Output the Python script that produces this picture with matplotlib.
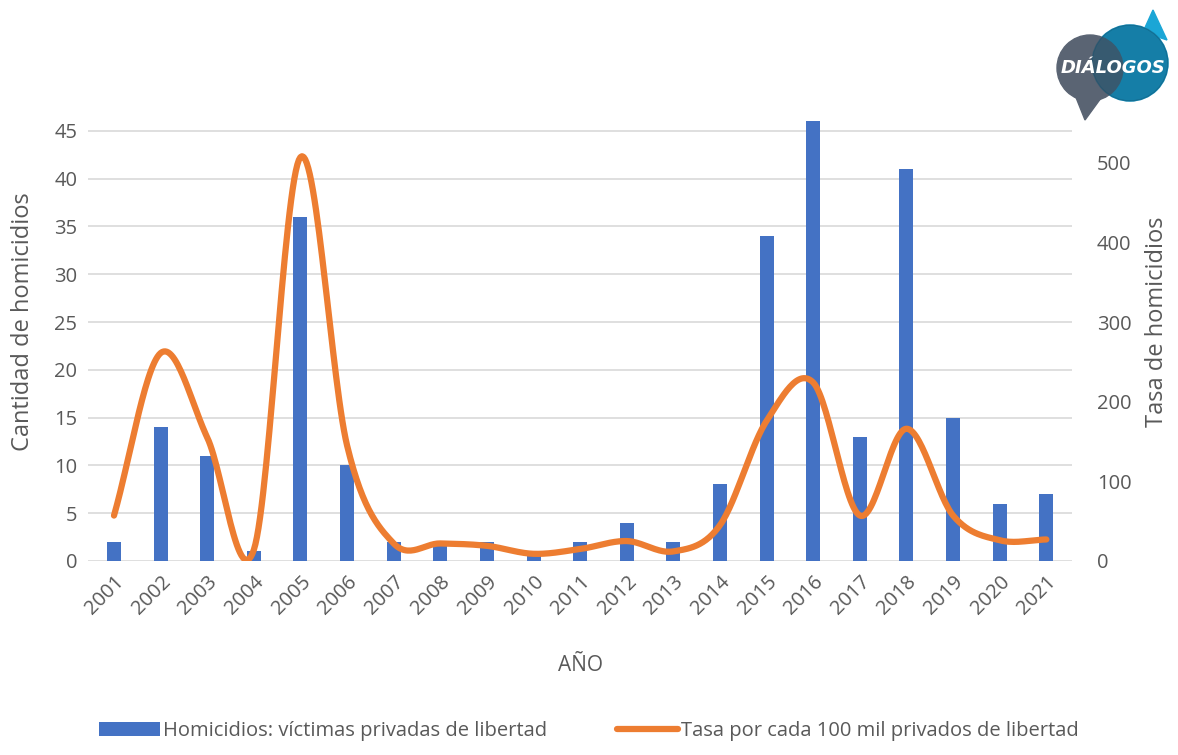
import numpy as np
import matplotlib.pyplot as plt
from matplotlib.patches import Circle, Polygon

plt.rcParams['font.family'] = ['Open Sans', 'DejaVu Sans']

years = ['2001', '2002', '2003', '2004', '2005', '2006', '2007', '2008', '2009', '2010', '2011',
         '2012', '2013', '2014', '2015', '2016', '2017', '2018', '2019', '2020', '2021']
homicidios = [2, 14, 11, 1, 36, 10, 2, 2, 2, 1, 2, 4, 2, 8, 34, 46, 13, 41, 15, 6, 7]
tasa = [57, 261, 155, 14, 507, 145, 22, 22, 19, 9, 15, 25, 12, 45, 176, 224, 57, 166, 57, 26, 27]

BLUE = '#4472C4'
ORANGE = '#ED7D31'
GREY = '#595959'


def smooth(x, y, n=30):
    # Catmull-Rom curve through the points, like Excel's smoothed line
    x = np.asarray(x, float)
    y = np.asarray(y, float)
    px = np.concatenate([[2 * x[0] - x[1]], x, [2 * x[-1] - x[-2]]])
    py = np.concatenate([[2 * y[0] - y[1]], y, [2 * y[-1] - y[-2]]])
    xs, ys = [], []
    t = np.linspace(0, 1, n, endpoint=False)
    for i in range(1, len(px) - 2):
        for p, out in ((px, xs), (py, ys)):
            p0, p1, p2, p3 = p[i - 1], p[i], p[i + 1], p[i + 2]
            out.extend(0.5 * ((2 * p1) + (-p0 + p2) * t + (2 * p0 - 5 * p1 + 4 * p2 - p3) * t ** 2
                              + (-p0 + 3 * p1 - 3 * p2 + p3) * t ** 3))
    xs.append(x[-1])
    ys.append(y[-1])
    return np.array(xs), np.array(ys)


fig = plt.figure(figsize=(11.78, 7.55), dpi=100)
ax = fig.add_axes([0.075, 0.257, 0.835, 0.633])
x = np.arange(len(years))

bars = ax.bar(x, homicidios, width=0.3, color=BLUE, zorder=2,
              label='Homicidios: víctimas privadas de libertad')
ax.set_ylim(0, 50)
ax.set_yticks(range(0, 50, 5))
ax.set_xlim(-0.55, len(years) - 0.45)
ax.set_xticks(x)
ax.set_xticklabels(years, rotation=45, ha='right', rotation_mode='anchor')
ax.grid(axis='y', color='#D9D9D9', linewidth=1.2, zorder=0)
ax.set_axisbelow(True)
for s in ax.spines.values():
    s.set_visible(False)
ax.tick_params(length=0, labelsize=14.5, colors=GREY, pad=8)
ax.set_ylabel('Cantidad de homicidios', fontsize=17, color=GREY, labelpad=14)
ax.set_xlabel('AÑO', fontsize=15, color=GREY, labelpad=26)

ax2 = ax.twinx()
sx, sy = smooth(x, tasa)
line, = ax2.plot(sx, sy, color=ORANGE, linewidth=4.5, solid_capstyle='round', zorder=3,
                 label='Tasa por cada 100 mil privados de libertad')
ax2.set_ylim(0, 600)
ax2.set_yticks(range(0, 600, 100))
for s in ax2.spines.values():
    s.set_visible(False)
ax2.tick_params(length=0, labelsize=14.5, colors=GREY, pad=18)
ax2.set_ylabel('Tasa de homicidios', fontsize=17, color=GREY, labelpad=10)

fig.legend(handles=[bars, line], loc='lower center', bbox_to_anchor=(0.5, -0.005), ncol=2,
           frameon=False, fontsize=14.5, labelcolor=GREY, columnspacing=3.5,
           handlelength=3.0, handletextpad=0.15)

# logo
W, H = 1178, 755
lax = fig.add_axes([1035 / W, 1 - 125 / H, 140 / W, 125 / H])
lax.set_xlim(0, 140)
lax.set_ylim(125, 0)
lax.set_aspect('equal')
lax.axis('off')
lax.add_patch(Polygon([[108, 32], [118, 10], [132, 40]], color='#1BA6D6'))
lax.add_patch(Circle((95, 63), 38, color='#1BA6D6'))
lax.add_patch(Polygon([[38, 90], [50, 120], [66, 98]], color='#5A6473'))
lax.add_patch(Circle((55, 68), 33, color='#5A6473'))
lax.add_patch(Circle((95, 63), 38, color='#0E4F6E', alpha=0.45))
lax.text(78, 68, 'DIÁLOGOS', color='white', fontsize=13, fontweight='bold', style='italic',
         ha='center', va='center', family='DejaVu Sans Condensed')

fig.savefig('out.png', dpi=100)
